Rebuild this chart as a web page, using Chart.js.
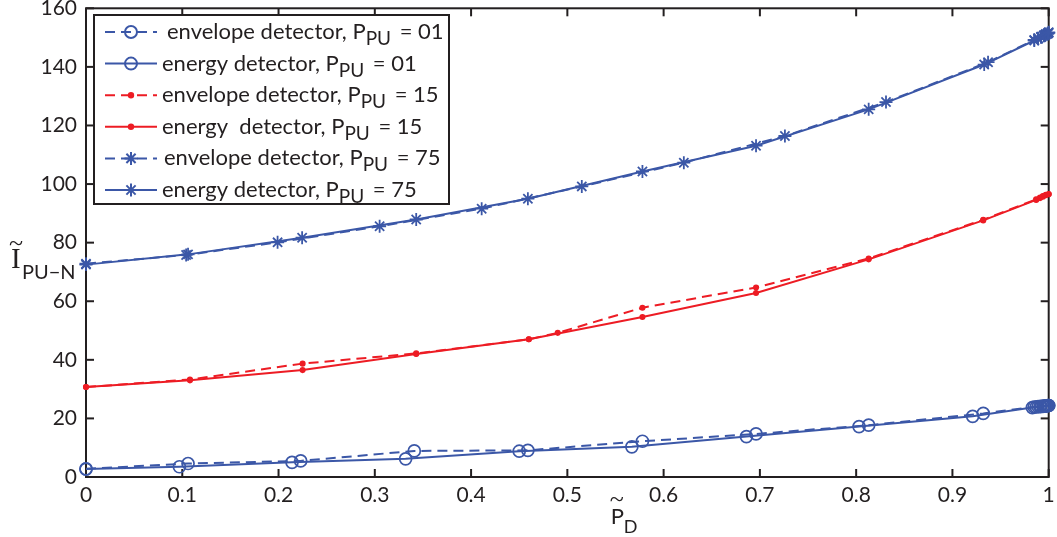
<!DOCTYPE html>
<html>
<head>
<meta charset="utf-8">
<script src="https://cdn.jsdelivr.net/npm/chart.js@4.4.1/dist/chart.umd.min.js"></script>
<style>
  html, body { margin: 0; padding: 0; background: #fff; }
  #wrap { width: 1057px; height: 537px; position: relative; }
</style>
</head>
<body>
<div id="wrap"><canvas id="c" width="1057" height="537"></canvas></div>
<script>
// Axis ticks
const xTickValues = [0, 0.1, 0.2, 0.3, 0.4, 0.5, 0.6, 0.7, 0.8, 0.9, 1];
const xTickLabels = ['0', '0.1', '0.2', '0.3', '0.4', '0.5', '0.6', '0.7', '0.8', '0.9', '1'];
const yTickValues = [0, 20, 40, 60, 80, 100, 120, 140, 160];
const yTickLabels = ['0', '20', '40', '60', '80', '100', '120', '140', '160'];

// P_PU = 01
const env01X = [0, 0.106, 0.223, 0.341, 0.459, 0.578, 0.696, 0.813, 0.932, 0.985, 0.989, 0.992, 0.995, 0.997, 0.999, 1.0];
const env01Y = [2.8, 4.6, 5.5, 8.9, 9.1, 12.2, 14.7, 17.7, 21.7, 23.9, 24.0, 24.1, 24.2, 24.3, 24.4, 24.4];
const eng01X = [0, 0.097, 0.214, 0.332, 0.450, 0.567, 0.686, 0.803, 0.921, 0.983, 0.987, 0.991, 0.994, 0.996, 0.998, 1.0];
const eng01Y = [2.7, 3.5, 5.0, 6.2, 8.8, 10.3, 13.8, 17.2, 20.7, 23.7, 23.9, 24.0, 24.1, 24.2, 24.3, 24.4];

// P_PU = 15
const env15X = [0, 0.108, 0.225, 0.343, 0.46, 0.49, 0.578, 0.696, 0.813, 0.932, 0.987, 0.991, 0.994, 0.997, 1.0];
const env15Y = [30.7, 33.3, 38.7, 42.2, 47.0, 49.2, 57.8, 64.7, 74.6, 87.8, 94.8, 95.4, 95.9, 96.3, 96.6];
const eng15X = [0, 0.108, 0.225, 0.343, 0.46, 0.578, 0.696, 0.813, 0.932, 0.987, 0.991, 0.994, 0.997, 1.0];
const eng15Y = [30.7, 33.0, 36.5, 42.0, 47.0, 54.6, 62.8, 74.3, 87.6, 94.6, 95.2, 95.7, 96.2, 96.5];

// P_PU = 75
const env75X = [0, 0.104, 0.199, 0.305, 0.411, 0.515, 0.621, 0.726, 0.831, 0.937, 0.985, 0.989, 0.992, 0.995, 0.997, 0.999, 1.0];
const env75Y = [72.8, 75.8, 80.1, 85.6, 91.6, 99.2, 107.3, 116.4, 128.0, 141.6, 149.2, 149.8, 150.3, 150.8, 151.2, 151.5, 151.8];
const eng75X = [0, 0.106, 0.2245, 0.343, 0.459, 0.578, 0.696, 0.813, 0.933, 0.985, 0.989, 0.992, 0.995, 0.997, 0.999, 1.0];
const eng75Y = [72.5, 76.0, 81.7, 87.9, 95.0, 104.3, 113.1, 125.5, 140.8, 149.0, 149.6, 150.1, 150.6, 151.0, 151.3, 151.6];

// Legend entries: main text, subscript, trailing text
const legendMain = ['envelope detector, P', 'energy detector, P', 'envelope detector, P', 'energy  detector, P', 'envelope detector, P', 'energy detector, P'];
const legendSub = ['PU', 'PU', 'PU', 'PU', 'PU', 'PU'];
const legendTail = [' = 01', ' = 01', ' = 15', ' = 15', ' = 75', ' = 75'];

const ink = '#231f20';
const blue = '#3b57a7';
const red = '#ed1c24';
const sans = 'Lato, "Noto Sans", sans-serif';
const serif = '"Liberation Serif", "DejaVu Serif", serif';
const dash = [10, 6];

function pts(xs, ys) { return xs.map((x, i) => ({ x: x, y: ys[i] })); }

function series(xs, ys, color, dashed, style, radius, label) {
  return {
    label: label,
    data: pts(xs, ys),
    showLine: true,
    borderColor: color,
    borderWidth: 2,
    borderDash: dashed ? dash : [],
    tension: 0,
    fill: false,
    clip: false,
    pointStyle: style,
    pointRadius: radius,
    pointHoverRadius: radius,
    pointBorderWidth: style === 'star' ? 1.8 : 1.7,
    pointBorderColor: color,
    pointBackgroundColor: style === 'circle' && radius > 3 ? 'rgba(0,0,0,0)' : color
  };
}

const datasets = [
  series(env01X, env01Y, blue, true, 'circle', 6, legendMain[0] + legendSub[0] + legendTail[0]),
  series(eng01X, eng01Y, blue, false, 'circle', 6, legendMain[1] + legendSub[1] + legendTail[1]),
  series(env15X, env15Y, red, true, 'circle', 2.2, legendMain[2] + legendSub[2] + legendTail[2]),
  series(eng15X, eng15Y, red, false, 'circle', 2.2, legendMain[3] + legendSub[3] + legendTail[3]),
  series(env75X, env75Y, blue, true, 'star', 6.5, legendMain[4] + legendSub[4] + legendTail[4]),
  series(eng75X, eng75Y, blue, false, 'star', 6.5, legendMain[5] + legendSub[5] + legendTail[5])
];

function line(ctx, x1, y1, x2, y2) {
  ctx.beginPath(); ctx.moveTo(x1, y1); ctx.lineTo(x2, y2); ctx.stroke();
}

// Box around the axes with inward ticks on all four sides
const framePlugin = {
  id: 'frame',
  beforeDatasetsDraw(chart) {
    const ctx = chart.ctx;
    const a = chart.chartArea;
    const xs = chart.scales.x, ys = chart.scales.y;
    const tl = 8;
    ctx.save();
    ctx.strokeStyle = ink;
    ctx.lineWidth = 2;
    ctx.setLineDash([]);
    ctx.strokeRect(a.left, a.top, a.right - a.left, a.bottom - a.top);
    xs.ticks.forEach(t => {
      const px = xs.getPixelForValue(t.value);
      line(ctx, px, a.bottom, px, a.bottom - tl);
      line(ctx, px, a.top, px, a.top + tl);
    });
    ys.ticks.forEach(t => {
      const py = ys.getPixelForValue(t.value);
      line(ctx, a.left, py, a.left + tl, py);
      line(ctx, a.right, py, a.right - tl, py);
    });
    ctx.restore();
  }
};

// Legend with subscripted labels
const legendPlugin = {
  id: 'subLegend',
  afterDatasetsDraw(chart) {
    const ctx = chart.ctx;
    const bx = 94, by = 15, bw = 355, bh = 189;
    const textLeft = [167, 162, 162, 162, 164, 162];
    ctx.save();
    ctx.fillStyle = '#fff';
    ctx.fillRect(bx, by, bw, bh);
    ctx.strokeStyle = ink;
    ctx.lineWidth = 2;
    ctx.setLineDash([]);
    ctx.strokeRect(bx, by, bw, bh);
    const rowH = 31.6;
    const y0 = by + 17;
    chart.data.datasets.forEach((ds, i) => {
      const y = y0 + i * rowH;
      ctx.strokeStyle = ds.borderColor;
      ctx.lineWidth = ds.borderWidth;
      ctx.setLineDash(ds.borderDash);
      line(ctx, 105, y, 157, y);
      ctx.setLineDash([]);
      ctx.strokeStyle = ds.pointBorderColor;
      ctx.fillStyle = ds.pointBackgroundColor;
      Chart.helpers.drawPoint(ctx, {
        pointStyle: ds.pointStyle, rotation: 0,
        radius: ds.pointRadius, borderWidth: ds.pointBorderWidth
      }, 131, y);
      ctx.fillStyle = ink;
      ctx.textBaseline = 'alphabetic';
      ctx.textAlign = 'left';
      ctx.font = '22px ' + sans;
      let tx = textLeft[i];
      const base = y + 7;
      ctx.fillText(legendMain[i], tx, base);
      tx += ctx.measureText(legendMain[i]).width;
      ctx.font = '19px ' + sans;
      ctx.fillText(legendSub[i], tx, base + 6);
      tx += ctx.measureText(legendSub[i]).width + 3;
      ctx.font = '22px ' + sans;
      ctx.fillText(legendTail[i], tx, base);
    });
    ctx.restore();
  }
};

// Axis titles: tilde-I with subscript, tilde-P with subscript
const titlePlugin = {
  id: 'axisTitles',
  afterDraw(chart) {
    const ctx = chart.ctx;
    ctx.save();
    ctx.fillStyle = ink;
    ctx.textAlign = 'left';
    ctx.textBaseline = 'alphabetic';
    // y title
    ctx.font = '29px ' + serif;
    ctx.fillText('I', 11, 268);
    ctx.font = '26px ' + serif;
    ctx.fillText('~', 9, 251);
    ctx.font = '20px ' + sans;
    ctx.fillText('PU\u2212N', 22, 279);
    // x title
    const px = chart.scales.x.getPixelForValue(0.545);
    ctx.font = '22px ' + sans;
    ctx.fillText('P', px, 524);
    ctx.font = '26px ' + serif;
    ctx.fillText('~', px - 1, 507);
    ctx.font = '18px ' + sans;
    ctx.fillText('D', px + 13, 533);
    ctx.restore();
  }
};

const tickFont = { family: sans, size: 21 };

new Chart(document.getElementById('c'), {
  type: 'scatter',
  data: { datasets: datasets },
  options: {
    responsive: false,
    animation: false,
    events: [],
    layout: { padding: { left: 0, top: 5, right: 6, bottom: 0 } },
    plugins: { legend: { display: false }, tooltip: { enabled: false } },
    scales: {
      x: {
        type: 'linear', min: 0, max: 1,
        afterBuildTicks: s => { s.ticks = xTickValues.map(v => ({ value: v })); },
        afterFit: s => { s.height = 60; s.paddingLeft = 0; s.paddingRight = 0; s.paddingTop = 0; s.paddingBottom = 0; },
        ticks: {
          callback: (v, i) => xTickLabels[i],
          font: tickFont, color: ink, padding: 6,
          maxRotation: 0, autoSkip: false
        },
        grid: { display: false, drawTicks: false },
        border: { display: false }
      },
      y: {
        type: 'linear', min: 0, max: 160,
        afterBuildTicks: s => { s.ticks = yTickValues.map(v => ({ value: v })); },
        afterFit: s => { s.width = 86; s.paddingLeft = 0; s.paddingRight = 0; s.paddingTop = 0; s.paddingBottom = 0; },
        ticks: {
          callback: (v, i) => yTickLabels[i],
          font: tickFont, color: ink, padding: 9,
          autoSkip: false
        },
        grid: { display: false, drawTicks: false },
        border: { display: false }
      }
    }
  },
  plugins: [framePlugin, legendPlugin, titlePlugin]
});
</script>
</body>
</html>
